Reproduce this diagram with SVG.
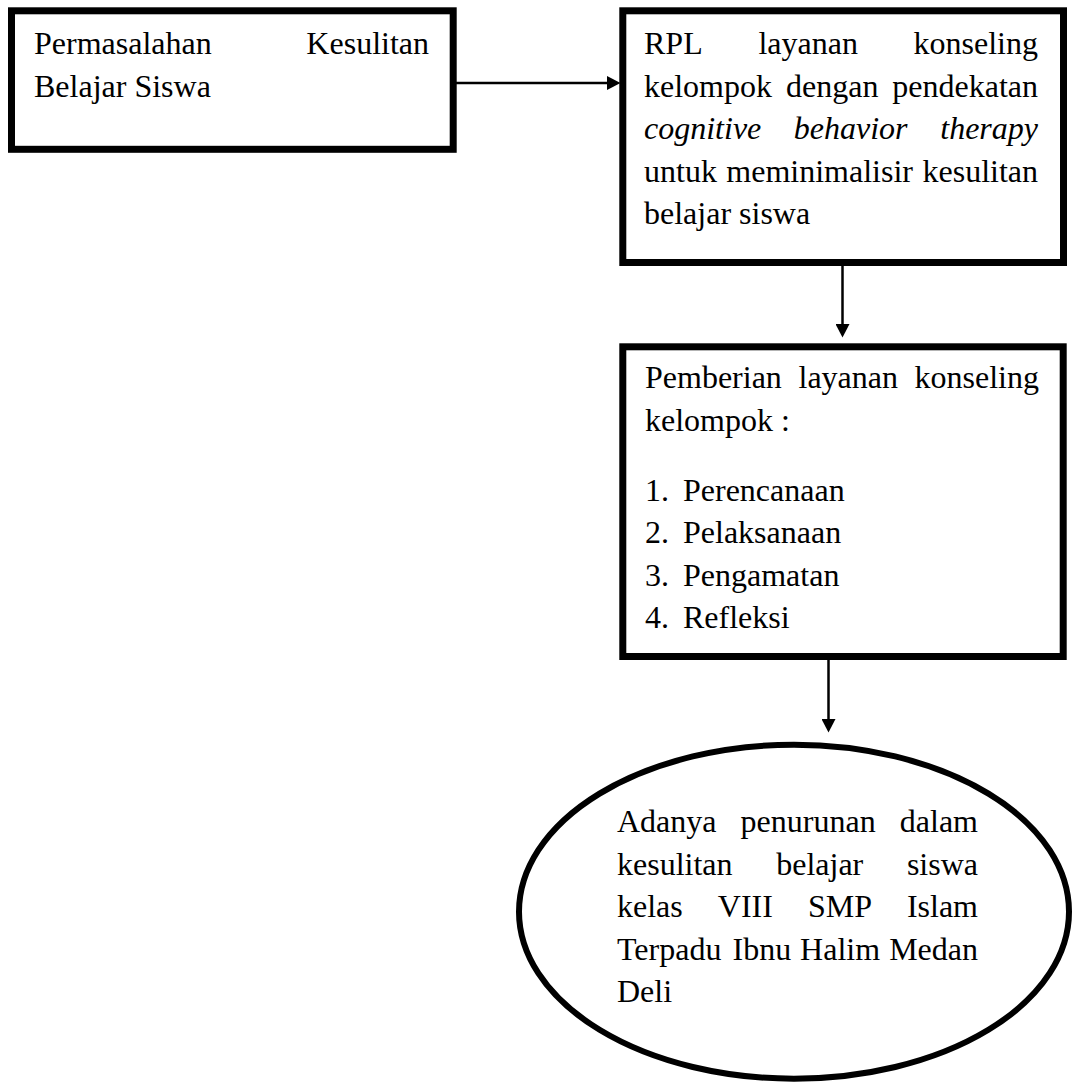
<svg xmlns="http://www.w3.org/2000/svg" width="1072" height="1082" viewBox="0 0 1072 1082">
<style>
.box{fill:#fff;stroke:#000;stroke-width:7}
.oval{fill:#fff;stroke:#000;stroke-width:6}
.t{font-family:"Liberation Serif","Times New Roman",serif;font-size:32px;fill:#000}
.i{font-style:italic}
.e{text-anchor:end}
.con{stroke:#000;stroke-width:2.5;fill:none}
</style>
<defs>
<marker id="ah" markerUnits="userSpaceOnUse" markerWidth="14" markerHeight="14" refX="7" refY="7" orient="auto" viewBox="0 0 14 14">
<path d="M0,0 L13.5,7 L0,14 z" fill="#000"/>
</marker>
</defs>
<rect width="1072" height="1082" fill="#fff"/>
<g id="connectors">
<line class="con" x1="456" y1="83" x2="614" y2="83" marker-end="url(#ah)"/>
<line class="con" x1="842.5" y1="264" x2="842.5" y2="331" marker-end="url(#ah)"/>
<line class="con" x1="828.5" y1="660" x2="828.5" y2="726" marker-end="url(#ah)"/>
</g>
<g id="node-permasalahan">
<rect class="box" x="11.5" y="10.8" width="441.7" height="138.5"/>
<text class="t" x="34" y="54">Permasalahan</text>
<text class="t e" x="429" y="54">Kesulitan</text>
<text class="t" x="34" y="96.7">Belajar Siswa</text>
</g>
<g id="node-rpl">
<rect class="box" x="622.8" y="10.8" width="440.7" height="251.7"/>
<text class="t" x="644" y="54.3">RPL</text>
<text class="t" x="758.4" y="54.3">layanan</text>
<text class="t e" x="1038" y="54.3">konseling</text>
<text class="t" x="644" y="96.8">kelompok</text>
<text class="t" x="786" y="96.8">dengan</text>
<text class="t e" x="1038" y="96.8">pendekatan</text>
<text class="t i" x="644" y="139.3">cognitive</text>
<text class="t i" x="793.8" y="139.3">behavior</text>
<text class="t i e" x="1038" y="139.3">therapy</text>
<text class="t" x="644" y="181.8">untuk</text>
<text class="t" x="726.3" y="181.8">meminimalisir</text>
<text class="t e" x="1038" y="181.8">kesulitan</text>
<text class="t" x="644" y="224.3">belajar siswa</text>
</g>
<g id="node-pemberian">
<rect class="box" x="622.8" y="346.8" width="440.4" height="309.7"/>
<text class="t" x="645" y="388.3">Pemberian</text>
<text class="t" x="798.5" y="388.3">layanan</text>
<text class="t e" x="1039" y="388.3">konseling</text>
<text class="t" x="645" y="431">kelompok :</text>
<text class="t" x="645" y="500.7">1.</text>
<text class="t" x="683" y="500.7">Perencanaan</text>
<text class="t" x="645" y="543.3">2.</text>
<text class="t" x="683" y="543.3">Pelaksanaan</text>
<text class="t" x="645" y="585.8">3.</text>
<text class="t" x="683" y="585.8">Pengamatan</text>
<text class="t" x="645" y="628.3">4.</text>
<text class="t" x="683" y="628.3">Refleksi</text>
</g>
<g id="node-hasil">
<ellipse class="oval" cx="794" cy="911.7" rx="275" ry="167"/>
<text class="t" x="617" y="832">Adanya</text>
<text class="t" x="740.6" y="832">penurunan</text>
<text class="t e" x="978" y="832">dalam</text>
<text class="t" x="617" y="874.5">kesulitan</text>
<text class="t" x="776.2" y="874.5">belajar</text>
<text class="t e" x="978" y="874.5">siswa</text>
<text class="t" x="617" y="917">kelas</text>
<text class="t" x="717.8" y="917">VIII</text>
<text class="t" x="807.9" y="917">SMP</text>
<text class="t e" x="978" y="917">Islam</text>
<text class="t" x="617" y="959.5">Terpadu</text>
<text class="t" x="732.5" y="959.5">Ibnu</text>
<text class="t" x="800.1" y="959.5">Halim</text>
<text class="t e" x="978" y="959.5">Medan</text>
<text class="t" x="617" y="1002">Deli</text>
</g>
</svg>
